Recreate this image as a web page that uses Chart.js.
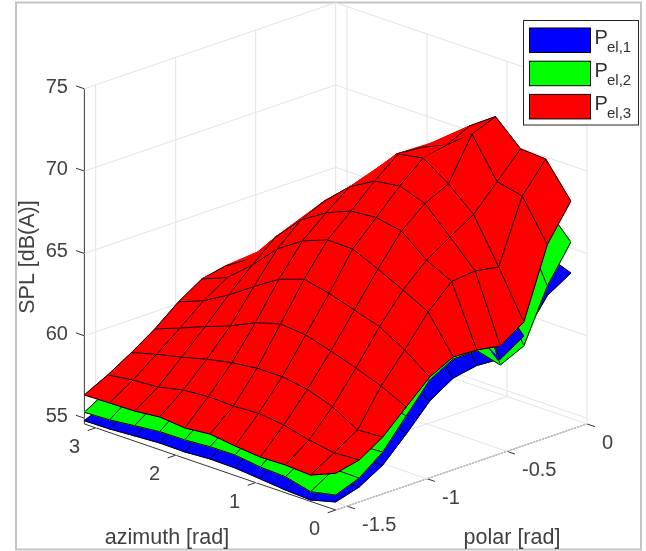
<!DOCTYPE html>
<html>
<head>
<meta charset="utf-8">
<style>
html, body { margin: 0; background: #fff; }
canvas { display: block; filter: blur(0.35px); }
</style>
<script src="https://cdn.jsdelivr.net/npm/chart.js@4/dist/chart.umd.min.js"></script>
</head>
<body>
<canvas id="c" width="646" height="551"></canvas>
<script>
// sample grid
const azimuth = [0, 0.314, 0.628, 0.942, 1.257, 1.571, 1.885, 2.199, 2.513, 2.827, 3.142];
const polar = [-1.571, -1.424, -1.277, -1.130, -0.983, -0.836, -0.689, -0.542, -0.395, -0.248, -0.101];

// SPL per polar row (outer) and azimuth (inner), dB(A)
const splP1 = [
    [55.14, 54.74, 54.82, 54.97, 55.11, 55.14, 55.04, 55.06, 54.97, 54.87, 54.85],
    [55.56, 55.60, 55.70, 56.10, 56.25, 56.15, 56.20, 56.10, 55.85, 55.70, 55.45],
    [56.40, 56.30, 57.10, 57.65, 57.90, 57.90, 57.70, 57.40, 57.00, 56.65, 56.20],
    [57.80, 58.50, 59.00, 59.50, 59.95, 60.10, 59.65, 58.95, 58.35, 57.75, 57.20],
    [59.31, 60.10, 61.00, 61.50, 61.95, 62.30, 61.80, 60.80, 59.80, 58.90, 58.30],
    [60.22, 61.90, 62.70, 63.45, 64.15, 64.20, 63.60, 62.60, 61.10, 59.80, 59.20],
    [60.49, 63.20, 64.00, 65.20, 65.50, 65.40, 64.80, 63.85, 62.30, 60.45, 59.50],
    [60.40, 63.30, 64.90, 66.40, 66.95, 66.75, 65.85, 64.50, 62.70, 61.30, 59.50],
    [61.30, 63.00, 65.70, 67.10, 68.10, 67.90, 66.35, 64.80, 63.25, 61.70, 60.20],
    [63.27, 65.50, 67.20, 69.60, 68.50, 67.15, 65.80, 64.20, 62.75, 61.65, 60.50],
    [64.15, 64.72, 67.50, 70.20, 69.15, 67.90, 66.80, 65.80, 64.20, 62.70, 61.20]
];
const splP2 = [
    [55.56, 55.24, 55.63, 55.69, 55.90, 55.88, 55.77, 55.75, 55.59, 55.42, 55.36],
    [56.10, 56.12, 56.50, 56.90, 57.05, 56.95, 57.00, 56.90, 56.60, 56.45, 56.20],
    [57.19, 57.10, 57.90, 58.45, 58.70, 58.70, 58.50, 58.20, 57.80, 57.45, 57.00],
    [58.89, 59.30, 59.80, 60.30, 60.75, 60.90, 60.45, 59.75, 59.15, 58.55, 58.00],
    [60.59, 60.95, 61.80, 62.30, 62.75, 63.10, 62.60, 61.60, 60.60, 59.70, 59.10],
    [61.37, 62.70, 63.50, 64.25, 64.95, 65.00, 64.40, 63.40, 61.90, 60.60, 60.00],
    [61.40, 64.00, 64.80, 66.00, 66.30, 66.20, 65.60, 64.65, 63.10, 61.25, 60.30],
    [60.03, 64.10, 65.70, 67.20, 67.75, 67.55, 66.65, 65.30, 63.50, 62.10, 60.30],
    [60.70, 63.80, 66.50, 67.90, 68.90, 68.70, 67.15, 65.60, 64.05, 62.50, 61.00],
    [63.85, 67.03, 68.00, 70.40, 69.30, 67.95, 66.60, 65.00, 63.55, 62.45, 61.30],
    [66.03, 67.64, 69.50, 71.00, 69.95, 68.70, 67.60, 66.60, 65.00, 63.50, 62.00]
];
const splP3 = [
    [56.88, 56.25, 56.34, 56.30, 56.45, 56.65, 56.50, 56.64, 56.48, 56.45, 56.41],
    [57.20, 57.12, 57.37, 57.76, 57.94, 57.86, 57.91, 57.79, 57.45, 57.35, 57.14],
    [58.10, 58.01, 58.90, 59.43, 59.68, 59.67, 59.48, 59.17, 58.77, 58.43, 58.00],
    [59.44, 60.19, 60.76, 61.27, 61.72, 61.87, 61.42, 60.70, 60.14, 59.53, 58.95],
    [60.77, 61.89, 62.78, 63.27, 63.76, 64.09, 63.57, 62.60, 61.57, 60.70, 60.10],
    [61.50, 63.71, 64.52, 65.27, 65.96, 65.99, 65.41, 64.40, 62.90, 61.61, 61.01],
    [61.43, 65.07, 65.85, 67.09, 67.38, 67.26, 66.62, 65.67, 64.12, 62.26, 61.31],
    [61.19, 65.22, 66.76, 68.27, 68.81, 68.59, 67.71, 66.33, 64.54, 62.62, 60.82],
    [62.15, 64.97, 67.64, 68.97, 70.02, 69.74, 67.43, 66.51, 65.08, 63.41, 61.49],
    [66.37, 68.79, 69.14, 71.51, 70.32, 69.66, 68.73, 66.15, 65.20, 63.89, 62.27],
    [68.52, 70.55, 70.64, 72.08, 71.01, 69.68, 68.37, 67.36, 65.26, 64.07, 62.63]
];

// axis ticks
const azimuthTicks = [0, 1, 2, 3];
const polarTicks = [-1.5, -1, -0.5, 0];
const splTicks = [55, 60, 65, 70, 75];

const surfaces = [
    { values: splP1, color: '#0000ff', sub: 'el,1' },
    { values: splP2, color: '#00ff00', sub: 'el,2' },
    { values: splP3, color: '#ff0000', sub: 'el,3' }
];

const azMax = Math.PI, polMin = -Math.PI / 2, polMax = 0, zMin = 54.65, zMax = 75;
const FONT = '"Liberation Sans", Arial, sans-serif';
const GRID = '#e3e3e3', AXIS = '#333333', TEXT = '#404040';

// orthographic view of the plot box, gives values on the 646x551 page scales
function project(az, pol, z) {
    const p = pol - polMin;
    return {
        x: 335.7 - 80 * az + 160 * p,
        y: 510 - 27.4 * az - 54.8 * p - 16.47 * (z - zMin)
    };
}

// larger = closer to the viewer
function nearness(az, pol, z) {
    const a = az / azMax, q = (pol - polMin) / (polMax - polMin), c = (z - zMin) / (zMax - zMin);
    return -0.664 * (a + q) + 0.342 * c;
}

function lineSet(from, to, color) {
    return {
        data: [project(from[0], from[1], from[2]), project(to[0], to[1], to[2])],
        borderColor: color, borderWidth: 1, showLine: true, pointRadius: 0, fill: false, clip: false
    };
}

// walls, floor and axes
const backSets = [];
splTicks.forEach(z => {
    backSets.push(lineSet([azMax, polMin, z], [azMax, polMax, z], GRID));
    backSets.push(lineSet([azMax, polMax, z], [0, polMax, z], GRID));
});
polarTicks.forEach(p => {
    backSets.push(lineSet([azMax, p, zMin], [azMax, p, zMax], GRID));
    backSets.push(lineSet([0, p, zMin], [azMax, p, zMin], GRID));
});
azimuthTicks.forEach(a => {
    backSets.push(lineSet([a, polMax, zMin], [a, polMax, zMax], GRID));
    backSets.push(lineSet([a, polMin, zMin], [a, polMax, zMin], GRID));
});
backSets.push(lineSet([azMax, polMin, zMin], [azMax, polMin, zMax], AXIS));
backSets.push(lineSet([azMax, polMin, zMin], [0, polMin, zMin], AXIS));
backSets.push(lineSet([0, polMin, zMin], [0, polMax, zMin], AXIS));
splTicks.forEach(z => backSets.push(lineSet([azMax, polMin, z], [azMax + 0.105, polMin, z], AXIS)));
azimuthTicks.forEach(a => backSets.push(lineSet([a, polMin, zMin], [a, polMin - 0.05, zMin], AXIS)));
polarTicks.forEach(p => backSets.push(lineSet([0, p, zMin], [-0.1, p, zMin], AXIS)));

const lastAz = azimuth.length - 1, lastPol = polar.length - 1;

// each cell is split in two triangles along the same diagonal
function triA(i, j) { return [[i, j], [i + 1, j], [i, j + 1]]; }
function triB(i, j) { return [[i + 1, j], [i + 1, j + 1], [i, j + 1]]; }

function meanNear(s, nodes) {
    let near = 0;
    nodes.forEach(n => { near += nearness(azimuth[n[0]], polar[n[1]], s.values[n[1]][n[0]]) / nodes.length; });
    return near;
}

function nodePoints(s, nodes) {
    return nodes.map(n => project(azimuth[n[0]], polar[n[1]], s.values[n[1]][n[0]]));
}

// triangles and edges are sorted together, an edge sits just above the triangles it borders
const pieces = [];
surfaces.forEach(s => {
    for (let j = 0; j <= lastPol; j++) {
        for (let i = 0; i <= lastAz; i++) {
            if (i < lastAz && j < lastPol) {
                [triA(i, j), triB(i, j)].forEach(t => {
                    const pts = nodePoints(s, t);
                    pts.push(pts[0]);
                    pieces.push({ near: meanNear(s, t), pts: pts, line: s.color, fill: 'shape', color: s.color });
                });
            }
            if (i < lastAz) {
                const beside = [];
                if (j < lastPol) beside.push(meanNear(s, triA(i, j)));
                if (j > 0) beside.push(meanNear(s, triB(i, j - 1)));
                pieces.push({ near: Math.max(...beside) + 0.0001, pts: nodePoints(s, [[i, j], [i + 1, j]]), line: '#000', fill: false });
            }
            if (j < lastPol) {
                const beside = [];
                if (i < lastAz) beside.push(meanNear(s, triA(i, j)));
                if (i > 0) beside.push(meanNear(s, triB(i - 1, j)));
                pieces.push({ near: Math.max(...beside) + 0.0001, pts: nodePoints(s, [[i, j], [i, j + 1]]), line: '#000', fill: false });
            }
        }
    }
});
pieces.sort((a, b) => a.near - b.near);

const datasets = backSets.map(d => Object.assign(d, { order: pieces.length + 1 }));
pieces.forEach((q, k) => {
    datasets.push({
        data: q.pts, order: pieces.length - k,
        backgroundColor: q.color, borderColor: q.line, borderWidth: 1,
        showLine: true, pointRadius: 0, fill: q.fill, clip: false, tension: 0
    });
});

function text(ctx, str, x, y, align, size, color) {
    ctx.font = size + 'px ' + FONT;
    ctx.textAlign = align;
    ctx.textBaseline = 'alphabetic';
    ctx.fillStyle = color || TEXT;
    ctx.fillText(str, x, y);
}

// frame, tick labels, axis titles and the legend
const decorations = {
    id: 'decorations',
    beforeDraw(chart) {
        const ctx = chart.ctx;
        ctx.save();
        ctx.strokeStyle = '#c4c4c4';
        ctx.lineWidth = 2;
        ctx.strokeRect(16, 2.5, 625, 547);
        ctx.restore();
    },
    afterDraw(chart) {
        const ctx = chart.ctx;
        ctx.save();
        splTicks.forEach(z => {
            const p = project(azMax, polMin, z);
            text(ctx, String(z), p.x - 16.5, p.y + 4, 'right', 20);
        });
        azimuthTicks.forEach(a => {
            const p = project(a, polMin, zMin);
            text(ctx, String(a), p.x - 15.5, p.y + 25, 'right', 20);
        });
        polarTicks.forEach(v => {
            const p = project(0, v, zMin);
            text(ctx, String(v), p.x + 15, p.y + 25, 'left', 20);
        });
        text(ctx, 'azimuth [rad]', 167, 544, 'center', 21.5);
        text(ctx, 'polar [rad]', 512, 544, 'center', 21.5);
        ctx.save();
        ctx.translate(34, 257);
        ctx.rotate(-Math.PI / 2);
        text(ctx, 'SPL [dB(A)]', 0, 0, 'center', 21.5);
        ctx.restore();

        // legend box
        ctx.fillStyle = '#fff';
        ctx.fillRect(523.5, 20.5, 115, 104.5);
        ctx.strokeStyle = '#262626';
        ctx.lineWidth = 1;
        ctx.strokeRect(523.5, 20.5, 115, 104.5);
        surfaces.forEach((s, k) => {
            const y = 28 + k * 33.2;
            ctx.fillStyle = s.color;
            ctx.fillRect(529.5, y, 61, 24.5);
            ctx.strokeStyle = '#000';
            ctx.strokeRect(529.5, y, 61, 24.5);
            text(ctx, 'P', 594.5, y + 16, 'left', 20, '#303030');
            text(ctx, s.sub, 607, y + 23.5, 'left', 15, '#303030');
        });
        ctx.restore();
    }
};

new Chart(document.getElementById('c'), {
    type: 'scatter',
    data: { datasets: datasets },
    plugins: [decorations],
    options: {
        responsive: false,
        animation: false,
        events: [],
        layout: { padding: 0 },
        plugins: { legend: { display: false }, tooltip: { enabled: false } },
        scales: {
            x: { type: 'linear', min: 0, max: 646, display: false },
            y: { type: 'linear', min: 0, max: 551, reverse: true, display: false }
        }
    }
});
</script>
</body>
</html>
